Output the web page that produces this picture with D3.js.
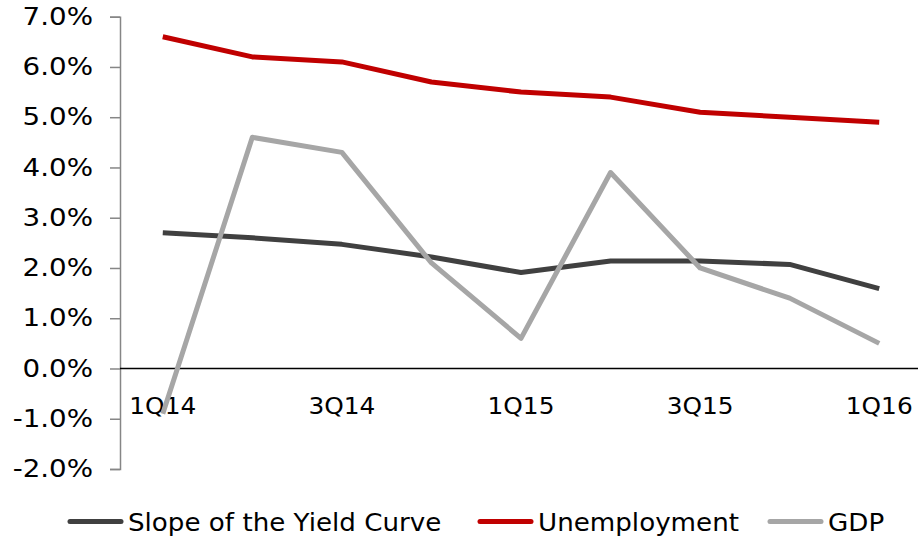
<!DOCTYPE html>
<html lang="en">
<head>
    <meta charset="UTF-8">
    <title>Yield Curve, Unemployment and GDP</title>
    <script src="https://cdnjs.cloudflare.com/ajax/libs/d3/7.8.5/d3.min.js"></script>
    <style>
        html, body {
            margin: 0;
            padding: 0;
            background: white;
        }

        svg text {
            font-family: "DejaVu Sans", Verdana, sans-serif;
            fill: #000;
        }
    </style>
</head>
<body>
<div id="chart"></div>
<script>
    const quarters = ['1Q14', '2Q14', '3Q14', '4Q14', '1Q15', '2Q15', '3Q15', '4Q15', '1Q16'];
    const shownQuarters = ['1Q14', '3Q14', '1Q15', '3Q15', '1Q16'];
    const slope = [2.70, 2.60, 2.47, 2.22, 1.91, 2.14, 2.14, 2.07, 1.59];
    const unemployment = [6.6, 6.2, 6.1, 5.7, 5.5, 5.4, 5.1, 5.0, 4.9];
    const gdp = [-0.9, 4.6, 4.3, 2.1, 0.6, 3.9, 2.0, 1.4, 0.5];
    const yTicks = [-2, -1, 0, 1, 2, 3, 4, 5, 6, 7];
    const seriesNames = ['Slope of the Yield Curve', 'Unemployment', 'GDP'];
    const seriesColors = ['#404040', '#c00000', '#a6a6a6'];

    const width = 918;
    const height = 540;

    const svg = d3.select('#chart')
        .append('svg')
        .attr('width', width)
        .attr('height', height);

    const x = d3.scalePoint()
        .domain(quarters)
        .range([118, 924])
        .padding(0.5);

    const y = d3.scaleLinear()
        .domain([-2, 7])
        .range([469, 16.7]);

    // the reference font runs a little wider than DejaVu, so widen text around its anchor
    function widen(stretch) {
        return sel => sel.each(function () {
            const t = d3.select(this);
            const tx = +t.attr('x') || 0;
            t.attr('x', tx / stretch).attr('transform', `scale(${stretch},1)`);
        });
    }

    const yAxis = d3.axisLeft(y)
        .tickValues(yTicks)
        .tickSize(10)
        .tickPadding(17)
        .tickFormat(d => d.toFixed(1) + '%');

    const gy = svg.append('g')
        .attr('transform', 'translate(120,0)')
        .call(yAxis);
    gy.select('.domain').attr('stroke', '#868686').attr('stroke-width', 1.5);
    gy.selectAll('.tick line').attr('stroke', '#868686').attr('stroke-width', 1.5);
    gy.selectAll('.tick text')
        .style('font-family', '"DejaVu Sans", Verdana, sans-serif')
        .style('font-size', '24px')
        .attr('fill', '#000')
        .call(widen(1.155));

    // zero line
    svg.append('line')
        .attr('x1', 120).attr('x2', width)
        .attr('y1', y(0)).attr('y2', y(0))
        .attr('stroke', '#000')
        .attr('stroke-width', 1.5);

    // category labels under the zero line
    svg.append('g')
        .selectAll('text')
        .data(shownQuarters)
        .join('text')
        .attr('x', d => x(d))
        .attr('y', y(0) + 46)
        .attr('text-anchor', 'middle')
        .style('font-size', '23px')
        .text(d => d)
        .call(widen(1.08));

    const series = [slope, unemployment, gdp];
    const line = d3.line()
        .x((d, i) => x(quarters[i]))
        .y(d => y(d));

    svg.append('g')
        .selectAll('path')
        .data(series)
        .join('path')
        .attr('d', d => line(d))
        .attr('fill', 'none')
        .attr('stroke', (d, i) => seriesColors[i])
        .attr('stroke-width', 5)
        .attr('stroke-linejoin', 'round');

    // legend
    const legend = svg.append('g');
    const legendStart = [67, 477, 767];
    const ly = 521.5;
    seriesNames.forEach((name, i) => {
        const lx = legendStart[i];
        legend.append('line')
            .attr('x1', lx + 3).attr('x2', lx + 54)
            .attr('y1', ly).attr('y2', ly)
            .attr('stroke', seriesColors[i])
            .attr('stroke-width', 5)
            .attr('stroke-linecap', 'round');
        legend.append('text')
            .attr('x', lx + 61)
            .attr('y', ly + 10)
            .style('font-size', '24px')
            .text(name)
            .call(widen(1.09));
    });
</script>
</body>
</html>
